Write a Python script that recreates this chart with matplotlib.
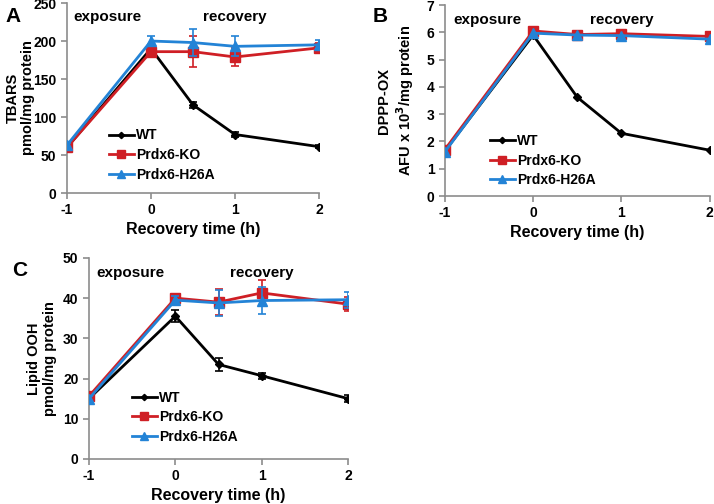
import numpy as np
import matplotlib
matplotlib.use('Agg')
from matplotlib import pyplot as plt

plt.rcParams['font.family'] = ['Liberation Sans', 'DejaVu Sans']
plt.rcParams['font.weight'] = 'bold'
plt.rcParams['axes.unicode_minus'] = False

times = [-1, 0, 0.5, 1, 2]
series_names = ['WT', 'Prdx6-KO', 'Prdx6-H26A']

# panel A - TBARS
tbars_wt = [60, 190, 116, 77, 61]
tbars_wt_err = [2, 4, 4, 3, 2]
tbars_ko = [60, 186, 186, 179, 191]
tbars_ko_err = [3, 6, 20, 12, 6]
tbars_h26a = [63, 200, 198, 193, 195]
tbars_h26a_err = [3, 7, 18, 13, 7]

# panel B - DPPP-OX
dppp_wt = [1.65, 5.9, 3.62, 2.3, 1.68]
dppp_ko = [1.7, 6.05, 5.92, 5.95, 5.85]
dppp_h26a = [1.62, 5.97, 5.9, 5.88, 5.75]

# panel C - lipid OOH
ooh_wt = [15, 35.5, 23.5, 20.7, 15]
ooh_wt_err = [0.6, 1.5, 1.5, 0.7, 0.8]
ooh_ko = [15.6, 40, 39, 41.3, 38.5]
ooh_ko_err = [0.6, 1, 3.3, 3.3, 1.8]
ooh_h26a = [15, 39.5, 38.8, 39.4, 39.6]
ooh_h26a_err = [0.6, 1, 3.3, 3.3, 2]

colors = ['black', '#CF1F25', '#2383D6']
markers = ['D', 's', '^']
msizes = [4, 7, 7]


def draw_panel(ax, values, errors, ymax, ystep, ylabel, label_x, text_y, leg_anchor):
    for i, name in enumerate(series_names):
        if errors is not None:
            ax.errorbar(times, values[i], yerr=errors[i], fmt='none', ecolor=colors[i],
                        elinewidth=1.2, capsize=3, capthick=1.2, zorder=3 + i)
        ax.plot(times, values[i], color=colors[i], marker=markers[i], markersize=msizes[i],
                linewidth=2, label=name, zorder=3 + i)
    ax.set_xlim(-1, 2)
    ax.set_ylim(0, ymax)
    ax.set_xticks([-1, 0, 1, 2])
    ax.set_yticks(np.arange(0, ymax + ystep / 2, ystep))
    for s in ['top', 'right']:
        ax.spines[s].set_visible(False)
    for s in ['left', 'bottom']:
        ax.spines[s].set_color('#8c8c8c')
        ax.spines[s].set_linewidth(1.2)
    ax.tick_params(colors='#8c8c8c', labelcolor='black', labelsize=10, width=1.2, length=4)
    ax.set_xlabel('Recovery time (h)', fontsize=11.5, fontweight='bold', labelpad=3)
    ax.set_ylabel(ylabel, fontsize=10.5, fontweight='bold', linespacing=1.15)
    ax.yaxis.set_label_coords(label_x, 0.5)
    ax.text(-0.52, text_y * ymax, 'exposure', fontsize=11, fontweight='bold',
            ha='center', va='center')
    ax.text(1.0, text_y * ymax, 'recovery', fontsize=11, fontweight='bold',
            ha='center', va='center')
    leg = ax.legend(loc='upper left', bbox_to_anchor=leg_anchor, frameon=False,
                    fontsize=10, handlelength=1.8, handletextpad=0.15, labelspacing=0.4,
                    borderpad=0, borderaxespad=0, markerscale=0.8)
    for t in leg.get_texts():
        t.set_fontweight('bold')


fig = plt.figure(figsize=(7.14, 5.04), dpi=100)
ax_a = fig.add_axes([0.0938, 0.617, 0.353, 0.377])
ax_b = fig.add_axes([0.623, 0.611, 0.371, 0.379])
ax_c = fig.add_axes([0.1246, 0.0893, 0.363, 0.399])

draw_panel(ax_a, [tbars_wt, tbars_ko, tbars_h26a],
           [tbars_wt_err, tbars_ko_err, tbars_h26a_err],
           250, 50, 'TBARS\npmol/mg protein', -0.125, 0.925, (0.165, 0.34))
draw_panel(ax_b, [dppp_wt, dppp_ko, dppp_h26a], None,
           7, 1, 'DPPP-OX\nAFU x 10$\\mathbf{^3}$/mg protein', -0.11, 0.92, (0.17, 0.325))
draw_panel(ax_c, [ooh_wt, ooh_ko, ooh_h26a],
           [ooh_wt_err, ooh_ko_err, ooh_h26a_err],
           50, 10, 'Lipid OOH\npmol/mg protein', -0.125, 0.925, (0.165, 0.34))

fig.text(13 / 714, 1 - 17 / 504, 'A', fontsize=15, fontweight='bold', ha='center', va='center')
fig.text(380 / 714, 1 - 17 / 504, 'B', fontsize=15, fontweight='bold', ha='center', va='center')
fig.text(20 / 714, 1 - 270 / 504, 'C', fontsize=15, fontweight='bold', ha='center', va='center')

fig.savefig('out.png', dpi=100)
